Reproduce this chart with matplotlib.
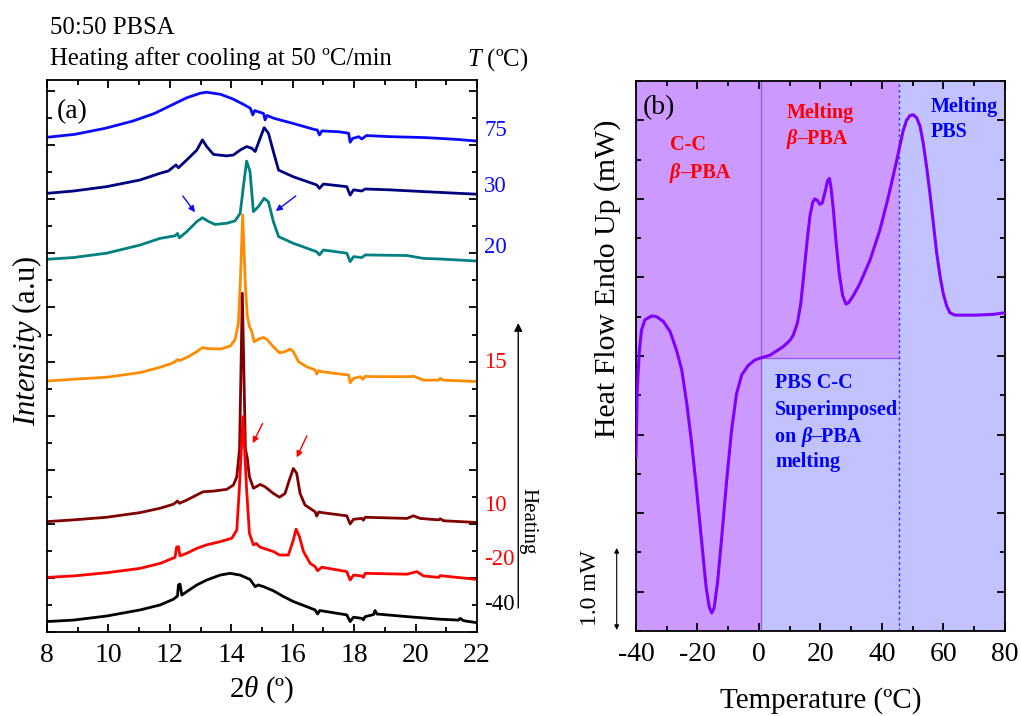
import matplotlib
matplotlib.use("Agg")
import matplotlib.pyplot as plt
import matplotlib.transforms as mtransforms
from matplotlib.ticker import MultipleLocator

plt.rcParams['font.family'] = 'Liberation Serif'
plt.rcParams['mathtext.fontset'] = 'custom'
plt.rcParams['mathtext.rm'] = 'Liberation Serif'
plt.rcParams['mathtext.it'] = 'Liberation Serif:italic'
plt.rcParams['mathtext.bf'] = 'Liberation Serif:bold'
plt.rcParams['axes.unicode_minus'] = False

# ---- panel (a): WAXS patterns, 2theta (deg) vs intensity (a.u., stacked) ----
tt_75 = [8.0, 8.9, 9.9, 10.8, 11.5, 12.1, 12.55, 13.0, 13.2, 13.65, 14.05, 14.4, 14.62, 14.7, 14.76,
         14.9, 15.05, 15.1, 15.16, 15.4, 16.0, 16.7, 16.8, 16.87, 16.95, 17.5, 17.82, 17.87, 17.95,
         18.15, 18.25, 18.4, 19.2, 20.3, 21.3, 22.0]
I_75 = [17.03, 17.13, 17.34, 17.59, 17.85, 18.16, 18.39, 18.55, 18.58, 18.51, 18.35, 18.16, 18.03,
        17.80, 17.95, 17.90, 17.85, 17.63, 17.78, 17.68, 17.51, 17.30, 17.28, 17.11, 17.25, 17.22,
        17.17, 16.86, 16.99, 17.05, 16.97, 17.09, 17.05, 17.02, 16.96, 16.90]

tt_30 = [8.0, 8.86, 9.94, 11.03, 11.68, 11.95, 12.2, 12.28, 12.55, 12.88, 13.06, 13.2, 13.42, 13.85,
         14.07, 14.29, 14.5, 14.67, 14.78, 14.94, 15.07, 15.21, 15.37, 15.54, 16.02, 16.78, 16.87,
         17.0, 17.76, 17.87, 17.98, 18.25, 18.36, 19.17, 20.26, 22.0]
I_30 = [15.10, 15.18, 15.33, 15.56, 15.79, 15.87, 16.08, 15.98, 16.25, 16.59, 16.94, 16.71, 16.44,
        16.39, 16.42, 16.59, 16.71, 16.65, 16.54, 17.00, 17.36, 17.17, 16.54, 15.90, 15.67, 15.39,
        15.27, 15.42, 15.33, 15.04, 15.22, 15.18, 15.25, 15.22, 15.16, 15.07]

tt_20 = [8.0, 8.86, 9.94, 11.03, 11.68, 12.17, 12.25, 12.31, 12.55, 12.88, 13.06, 13.26, 13.47, 13.85,
         14.12, 14.29, 14.4, 14.5, 14.61, 14.72, 14.88, 15.07, 15.21, 15.37, 15.54, 16.02, 16.78,
         16.87, 17.0, 17.76, 17.87, 17.98, 18.25, 18.36, 19.72, 20.26, 20.8, 22.0]
I_20 = [12.83, 12.89, 13.04, 13.32, 13.55, 13.64, 13.72, 13.57, 13.78, 14.13, 14.26, 14.13, 14.03,
        14.07, 14.15, 14.41, 15.39, 16.21, 15.85, 14.47, 14.64, 14.93, 14.81, 14.13, 13.61, 13.38,
        13.09, 12.98, 13.15, 13.04, 12.75, 12.92, 12.89, 12.98, 12.96, 12.86, 12.84, 12.77]

tt_15 = [8.0, 8.86, 9.94, 11.03, 11.68, 12.12, 12.25, 12.31, 12.55, 12.88, 13.06, 13.2, 13.64, 13.96,
         14.12, 14.23, 14.29, 14.37, 14.46, 14.52, 14.59, 14.67, 14.74, 14.88, 15.05, 15.16, 15.37,
         15.57, 15.75, 15.92, 16.02, 16.19, 16.46, 16.73, 16.78, 16.85, 16.95, 17.54, 17.82, 17.87,
         17.98, 18.2, 18.28, 18.36, 18.63, 19.82, 19.93, 20.26, 20.75, 20.8, 20.91, 22.0]
I_15 = [8.64, 8.70, 8.77, 8.93, 9.11, 9.27, 9.38, 9.34, 9.45, 9.65, 9.79, 9.76, 9.74, 9.84, 10.05,
        10.62, 11.90, 14.36, 11.90, 10.90, 10.51, 10.34, 9.99, 10.08, 10.14, 10.07, 9.82, 9.61, 9.65,
        9.74, 9.65, 9.30, 9.13, 9.02, 8.88, 9.00, 8.96, 8.88, 8.85, 8.58, 8.73, 8.79, 8.70, 8.80,
        8.79, 8.79, 8.81, 8.67, 8.67, 8.73, 8.67, 8.62]

tt_10 = [8.0, 8.86, 9.94, 11.03, 11.68, 12.12, 12.25, 12.31, 12.55, 12.88, 13.09, 13.42, 13.85, 14.07,
         14.18, 14.27, 14.36, 14.46, 14.52, 14.59, 14.72, 14.81, 14.94, 15.1, 15.37, 15.57, 15.75,
         15.89, 16.02, 16.13, 16.24, 16.4, 16.73, 16.78, 16.85, 16.95, 17.76, 17.87, 17.98, 18.25,
         18.3, 18.36, 19.72, 19.93, 20.15, 20.75, 20.8, 20.91, 22.0]
I_10 = [3.80, 3.86, 3.95, 4.11, 4.26, 4.40, 4.51, 4.43, 4.54, 4.72, 4.83, 4.85, 4.91, 5.06, 5.35,
        6.30, 11.66, 6.30, 6.00, 5.35, 4.95, 5.00, 5.08, 5.00, 4.77, 4.64, 4.77, 5.23, 5.63, 5.46,
        4.77, 4.37, 4.14, 3.99, 4.13, 4.11, 4.00, 3.72, 3.88, 3.91, 3.85, 3.95, 3.91, 4.00, 3.91,
        3.86, 3.90, 3.83, 3.77]

tt_m20 = [8.0, 8.86, 9.94, 11.03, 11.68, 12.17, 12.22, 12.28, 12.33, 12.55, 12.88, 13.2, 13.64, 14.02,
          14.18, 14.26, 14.38, 14.5, 14.59, 14.72, 14.81, 14.94, 15.37, 15.57, 15.86, 16.02, 16.11,
          16.22, 16.35, 16.57, 16.73, 16.81, 16.95, 17.76, 17.87, 17.98, 18.25, 18.3, 18.36, 19.72,
          20.04, 20.26, 20.75, 20.8, 22.0]
I_m20 = [1.88, 1.93, 2.04, 2.19, 2.36, 2.57, 2.92, 2.94, 2.62, 2.71, 2.88, 3.00, 3.11, 3.23, 3.51,
         4.89, 7.41, 4.89, 3.40, 3.00, 3.05, 2.92, 2.77, 2.65, 2.65, 3.17, 3.54, 3.28, 2.77, 2.36,
         2.25, 2.11, 2.23, 2.08, 1.79, 1.96, 1.93, 1.88, 2.02, 1.99, 2.08, 1.93, 1.88, 1.94, 1.81]

tt_m40 = [8.0, 8.86, 9.94, 11.03, 11.68, 12.12, 12.25, 12.28, 12.33, 12.39, 12.55, 12.88, 13.2, 13.64,
          13.96, 14.29, 14.61, 14.78, 14.88, 15.05, 15.37, 15.7, 16.02, 16.46, 16.73, 16.81, 16.88,
          17.76, 17.87, 17.98, 18.25, 18.3, 18.36, 18.63, 18.68, 18.74, 19.72, 20.8, 21.4, 21.45,
          21.56, 22.0]
I_m40 = [0.36, 0.41, 0.55, 0.76, 0.93, 1.13, 1.24, 1.62, 1.65, 1.27, 1.39, 1.62, 1.79, 1.96, 2.02,
         1.96, 1.81, 1.56, 1.62, 1.56, 1.42, 1.22, 1.05, 0.87, 0.76, 0.62, 0.74, 0.59, 0.36, 0.51,
         0.47, 0.42, 0.53, 0.60, 0.74, 0.62, 0.53, 0.44, 0.41, 0.47, 0.39, 0.32]

temps = ['75', '30', '20', '15', '10', '-20', '-40']
temp_label_y = [17.28, 15.32, 13.25, 9.29, 4.37, 2.48, 0.93]

# ---- panel (b): DSC heating scan ----
T_dsc = [-40.0, -39.6, -38.9, -38.2, -37.1, -34.9, -33.3, -31.1, -28.9, -26.8, -25.1, -23.5, -21.9,
         -20.3, -18.6, -17.2, -16.2, -15.4, -14.6, -13.5, -12.1, -10.5, -8.9, -7.3, -5.6, -3.5, -1.3,
         0.9, 3.6, 7.9, 10.1, 11.2, 12.5, 13.6, 14.6, 15.7, 16.6, 17.5, 18.2, 19.0, 19.8, 20.6, 21.5,
         22.3, 22.9, 23.4, 24.2, 25.0, 26.1, 27.2, 28.3, 29.2, 30.7, 32.8, 36.1, 39.3, 42.1, 44.8,
         46.9, 48.0, 49.1, 50.2, 51.3, 52.4, 53.4, 54.5, 55.6, 56.7, 57.8, 58.9, 59.9, 61.0, 62.1,
         63.7, 70.8, 76.2, 80.0]
hf_dsc = [1.72, 2.57, 3.07, 3.33, 3.46, 3.51, 3.50, 3.44, 3.31, 3.07, 2.82, 2.40, 1.89, 1.30, 0.62,
          0.06, -0.19, -0.27, -0.21, 0.11, 0.70, 1.42, 2.06, 2.52, 2.76, 2.88, 2.95, 2.98, 3.01, 3.12,
          3.20, 3.27, 3.42, 3.67, 4.05, 4.48, 4.79, 4.96, 5.00, 4.98, 4.93, 4.95, 5.09, 5.23, 5.26,
          5.15, 4.86, 4.48, 4.05, 3.77, 3.66, 3.68, 3.77, 3.92, 4.22, 4.60, 5.03, 5.49, 5.87, 6.00,
          6.06, 6.07, 6.03, 5.92, 5.71, 5.41, 5.07, 4.69, 4.31, 4.01, 3.80, 3.64, 3.55, 3.52, 3.52,
          3.53, 3.55]

t_cc_end = 0.5       # end of beta-PBA cold crystallisation region
t_pbs_start = 45.5   # start of PBS melting region
hf_split = 2.98      # level separating the two overlapped processes


def rich(ax, x, y, parts, color, size=14.5):
    # chain several text pieces (bold / bold italic) on one line
    prev = None
    for s, style in parts:
        kw = dict(color=color, fontsize=size, fontweight='bold', fontstyle=style)
        if prev is None:
            prev = ax.text(x, y, s, ha='left', va='center', **kw)
        else:
            prev = ax.annotate(s, xy=(1, 0), xycoords=prev, ha='left', va='bottom', **kw)


def style_axes(ax):
    for s in ax.spines.values():
        s.set_linewidth(1.3)
    ax.tick_params(which='both', direction='in', top=True, right=True, width=1.3,
                   labelsize=20, pad=8, labelleft=False)
    ax.tick_params(which='major', length=6)
    ax.tick_params(which='minor', length=3.5)


fig = plt.figure(figsize=(10.21, 7.16), dpi=100)
ax_a = fig.add_axes([0.046, 0.1173, 0.4212, 0.7709])
ax_b = fig.add_axes([0.6229, 0.1187, 0.3614, 0.7682])

# panel (a)
curves = [(tt_75, I_75, '#0a0aff'), (tt_30, I_30, '#000080'), (tt_20, I_20, '#008080'),
          (tt_15, I_15, '#ff8c00'), (tt_10, I_10, '#800000'), (tt_m20, I_m20, '#ff0000'),
          (tt_m40, I_m40, '#000000')]
for x, y, c in curves:
    ax_a.plot(x, y, color=c, lw=2.0, solid_joinstyle='round')

ax_a.set_xlim(8, 22)
ax_a.set_ylim(0, 19)
ax_a.xaxis.set_major_locator(MultipleLocator(2))
ax_a.xaxis.set_minor_locator(MultipleLocator(1))
ax_a.yaxis.set_major_locator(MultipleLocator(1.862))
ax_a.yaxis.set_minor_locator(MultipleLocator(0.931))
style_axes(ax_a)
ax_a.text(0.023, 0.942, '(a)', transform=ax_a.transAxes, fontsize=20, va='center', ha='left')

trans = mtransforms.blended_transform_factory(ax_a.transAxes, ax_a.transData)
label_colors = ['#0a0aff', '#0a0aff', '#0a0aff', '#ff0000', '#ff0000', '#ff0000', '#000000']
for lab, yl, c in zip(temps, temp_label_y, label_colors):
    ax_a.text(1.017, yl, lab, transform=trans, color=c, fontsize=16.5, va='center', ha='left',
              clip_on=False)

arw = dict(arrowstyle='-|>', lw=1.0, mutation_scale=9, shrinkA=0, shrinkB=0)
ax_a.annotate('', xy=(12.82, 14.45), xytext=(12.42, 15.01), arrowprops=dict(arw, color='#0a0aff'))
ax_a.annotate('', xy=(15.45, 14.49), xytext=(16.1, 15.01), arrowprops=dict(arw, color='#0a0aff'))
ax_a.annotate('', xy=(14.70, 6.50), xytext=(15.02, 7.18), arrowprops=dict(arw, color='#ff0000'))
ax_a.annotate('', xy=(16.13, 6.01), xytext=(16.46, 6.75), arrowprops=dict(arw, color='#ff0000'))

# heating arrow to the right of panel (a)
ax_a.annotate('', xy=(0.5076, 0.5489), xytext=(0.5076, 0.1508), xycoords='figure fraction',
              arrowprops=dict(arrowstyle='-|>', lw=1.0, color='k', mutation_scale=12,
                              shrinkA=0, shrinkB=0))
fig.text(0.5172, 0.2723, 'Heating', rotation=270, ha='center', va='center', fontsize=15)

fig.text(0.049, 0.952, '50:50 PBSA', fontsize=17.8, va='baseline')
fig.text(0.049, 0.909, 'Heating after cooling at 50 ºC/min', fontsize=17.8, va='baseline')
fig.text(0.518, 0.909, r'$T$ (ºC)', ha='right', va='baseline', fontsize=17.8)
fig.text(0.026, 0.524, r'$\mathit{Intensity}$ (a.u)', rotation=90, fontsize=22,
         ha='center', va='center')
fig.text(262 / 1021, 0.037, r'$\mathit{2\theta}$ (º)', fontsize=21, ha='center', va='center')

# panel (b)
violet = '#cc99ff'
lilac = '#c2c2ff'
ax_b.axvspan(-40, t_cc_end, color=violet, lw=0, zorder=0)
ax_b.fill_between([t_cc_end, t_pbs_start], hf_split, 6.5, color=violet, lw=0, zorder=0)
ax_b.fill_between([t_cc_end, t_pbs_start], -0.5, hf_split, color=lilac, lw=0, zorder=0)
ax_b.axvspan(t_pbs_start, 80, color=lilac, lw=0, zorder=0)
ax_b.axvline(t_cc_end, color='#9955ee', lw=0.9, zorder=1)
ax_b.plot([t_cc_end, t_pbs_start], [hf_split, hf_split], color='#9955ee', lw=0.9, zorder=1)
ax_b.axvline(t_pbs_start, color='#3333ff', lw=1.0, ls=(0, (2, 2)), zorder=1)

ax_b.plot(T_dsc, hf_dsc, color='#7f00ff', lw=2.2, zorder=3, solid_joinstyle='round')

ax_b.set_xlim(-40, 80)
ax_b.set_ylim(-0.5, 6.5)
ax_b.xaxis.set_major_locator(MultipleLocator(20))
ax_b.xaxis.set_minor_locator(MultipleLocator(10))
ax_b.yaxis.set_major_locator(MultipleLocator(1))
ax_b.yaxis.set_minor_locator(MultipleLocator(0.5))
style_axes(ax_b)
ax_b.text(0.019, 0.951, '(b)', transform=ax_b.transAxes, fontsize=20, va='center', ha='left')

red = '#ff0000'
blue = '#0000ff'
rich(ax_b, -28.9, 5.68, [('C-C', 'normal')], red)
rich(ax_b, -28.9, 5.33, [('β', 'italic'), ('–PBA', 'normal')], red)
rich(ax_b, 9.0, 6.09, [('Melting', 'normal')], red)
rich(ax_b, 9.0, 5.76, [('β', 'italic'), ('–PBA', 'normal')], red)
rich(ax_b, 55.8, 6.17, [('Melting', 'normal')], blue)
rich(ax_b, 55.8, 5.85, [('PBS', 'normal')], blue)
rich(ax_b, 5.2, 2.65, [('PBS C-C', 'normal')], blue)
rich(ax_b, 5.2, 2.31, [('Superimposed', 'normal')], blue)
rich(ax_b, 5.2, 1.97, [('on ', 'normal'), ('β', 'italic'), ('–PBA', 'normal')], blue)
rich(ax_b, 5.2, 1.65, [('melting', 'normal')], blue)

# 1.0 mW scale bar
ax_b.annotate('', xy=(616.7 / 1021, (716 - 548) / 716), xytext=(616.7 / 1021, (716 - 630) / 716),
              xycoords='figure fraction',
              arrowprops=dict(arrowstyle='<|-|>', lw=0.8, color='k', mutation_scale=7,
                              shrinkA=0, shrinkB=0))
fig.text(590 / 1021, (716 - 588) / 716, '1.0 mW', rotation=90, fontsize=17, ha='center', va='center')

fig.text(0.5955, 0.611, 'Heat Flow Endo Up (mW)', rotation=90, fontsize=21.5, ha='center', va='center')
fig.text(820.5 / 1021, 0.021, 'Temperature (ºC)', fontsize=21, ha='center', va='center')

fig.savefig('out.png', dpi=100)
